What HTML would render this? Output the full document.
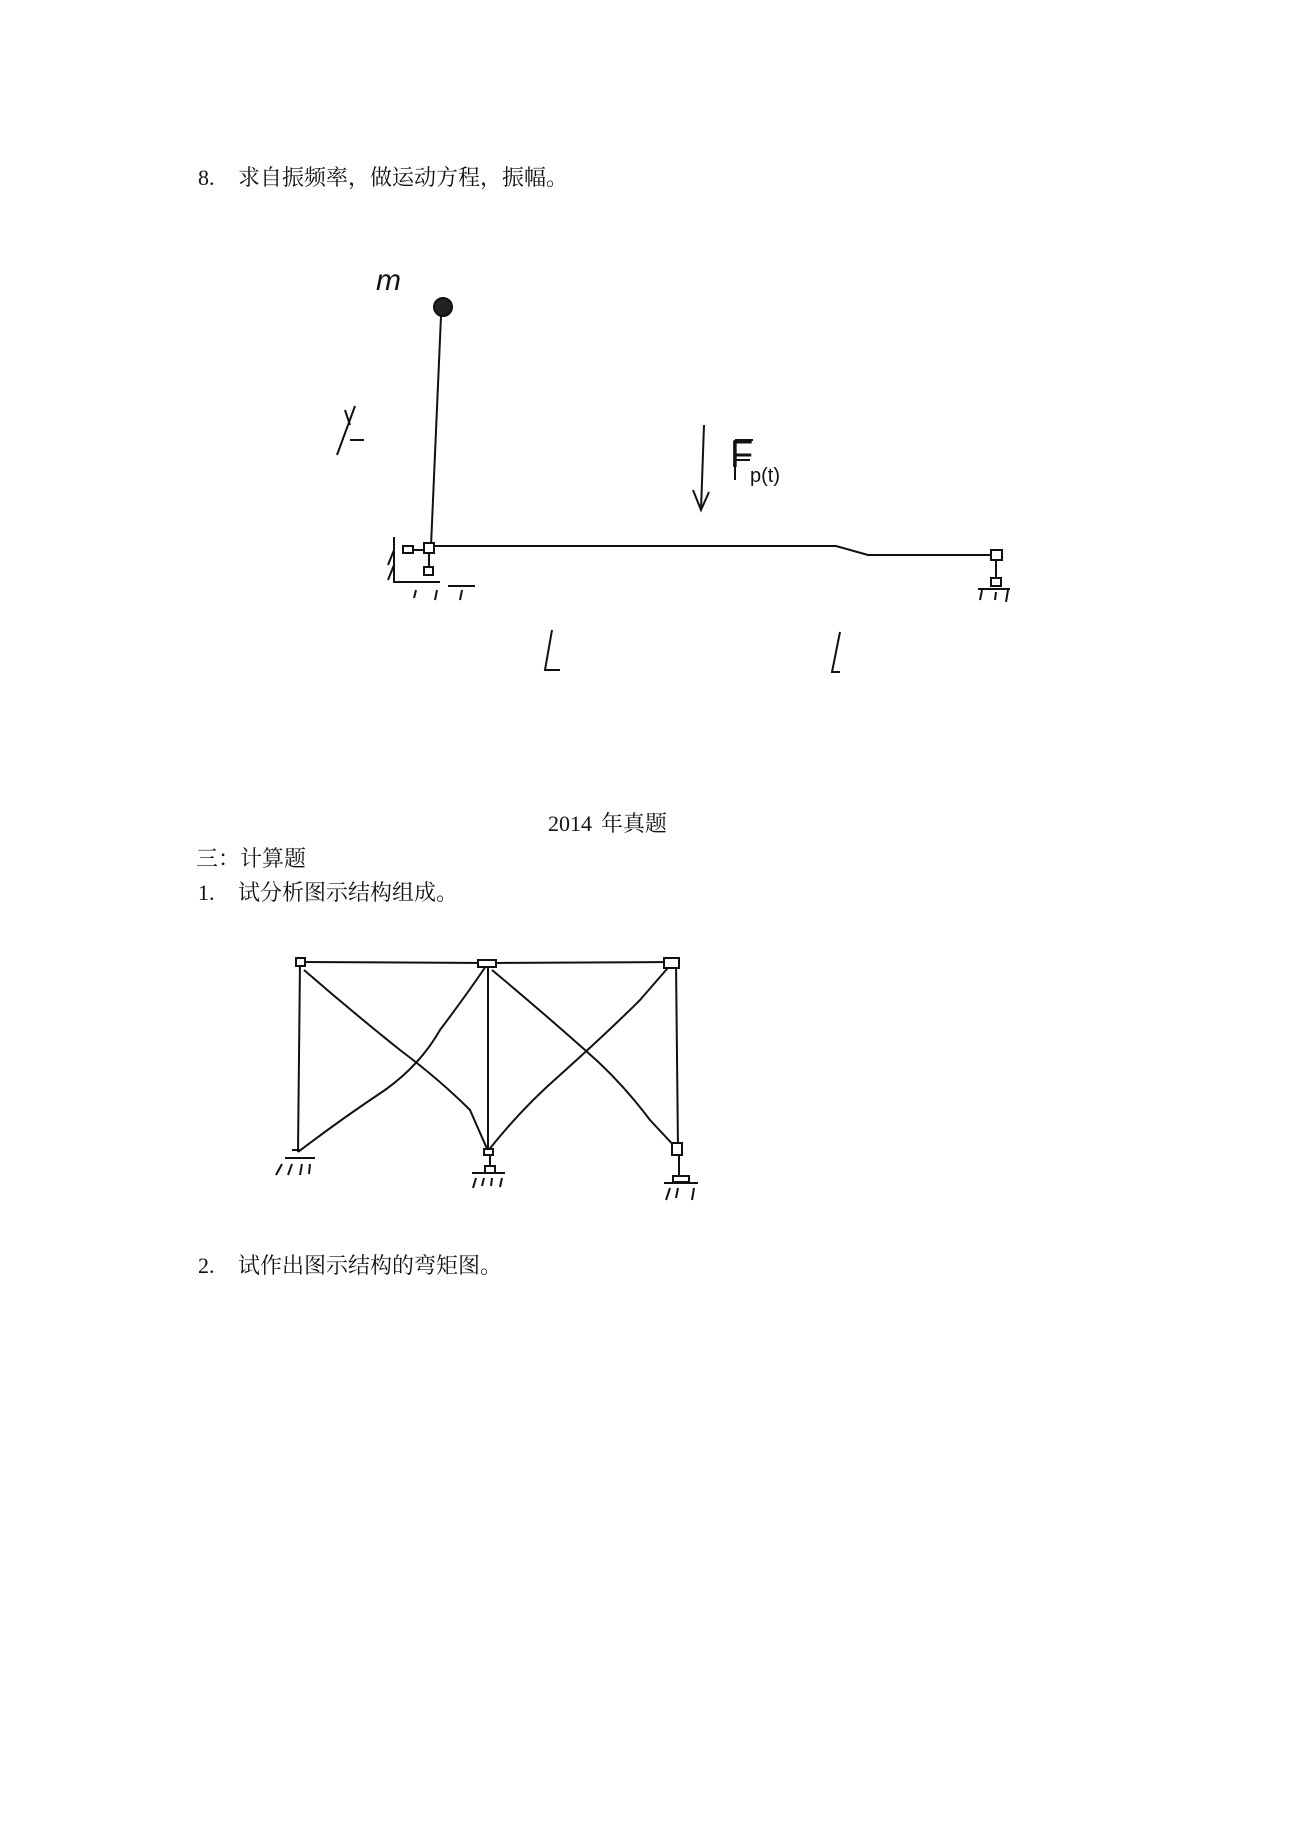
<!DOCTYPE html>
<html><head><meta charset="utf-8"><style>
html,body{margin:0;padding:0;background:#fff;}
body{width:1300px;height:1838px;position:relative;overflow:hidden;font-family:"Liberation Serif","Noto Serif CJK SC","Noto Sans CJK SC",serif;color:#111;}
.t{position:absolute;font-size:22px;white-space:nowrap;line-height:1;font-family:"Noto Serif CJK SC","Liberation Serif",serif;}
.n{position:absolute;font-size:22px;line-height:1;font-family:"Liberation Serif",serif;}
svg{position:absolute;left:0;top:0;}
</style></head><body>
<div class="n" style="left:198px;top:167px;">8.</div>
<div class="t" style="left:238px;top:166px;">求自振频率，做运动方程，振幅。</div>
<div class="n" style="left:548px;top:813px;">2014</div>
<div class="t" style="left:601px;top:812px;">年真题</div>
<div class="t" style="left:196px;top:847px;">三：计算题</div>
<div class="n" style="left:198px;top:882px;">1.</div>
<div class="t" style="left:238px;top:881px;">试分析图示结构组成。</div>
<div class="n" style="left:198px;top:1255px;">2.</div>
<div class="t" style="left:238px;top:1254px;">试作出图示结构的弯矩图。</div>
<svg width="1300" height="1838" viewBox="0 0 1300 1838" fill="none" stroke="#111" stroke-width="2">
<text x="376" y="290" font-size="30" fill="#111" stroke="none" font-style="italic" font-family="Liberation Sans">m</text>
<circle cx="443" cy="307" r="9" fill="#222"/>
<path d="M441 316 L431 546"/>
<path d="M431 546 L836 546 L868 555 L990 555"/>
<rect x="424" y="543" width="10" height="10" fill="#fff"/>
<rect x="403" y="546" width="10" height="7" fill="#fff"/>
<path d="M413 550 L424 550 M429 553 L429 567"/>
<rect x="424" y="567" width="9" height="8" fill="#fff"/>
<path d="M394 537 L394 582 L440 582 M394 550 L388 565 M394 565 L388 580 M416 590 L414 598 M437 590 L435 600 M462 590 L460 600 M448 586 L475 586"/>
<rect x="991" y="550" width="11" height="10" fill="#fff"/>
<path d="M996 560 L996 578"/>
<rect x="991" y="578" width="10" height="8" fill="#fff"/>
<path d="M978 589 L1010 589 M982 590 L980 600 M996 592 L995 600 M1008 590 L1006 602"/>
<path d="M704 425 L701 510 M693 490 L701 510 L709 492"/>
<path d="M735 440 L735 480 M735 440 L753 440 M735 460 L750 460"/>
<text x="750" y="482" font-size="20" fill="#111" stroke="none" font-family="Liberation Sans">p(t)</text>
<path d="M337 455 L355 406 M345 410 L350 425 M350 440 L364 440"/>
<path d="M552 630 L545 670 L560 670 M840 632 L832 672 L840 672"/>
<path d="M300 962 L488 963 L673 962"/>
<path d="M300 962 L298 1152 M488 963 L488 1151 M676 962 L678 1150"/>
<path d="M304 970 Q350 1010 400 1050 Q440 1080 470 1110 L488 1151"/>
<path d="M298 1152 Q340 1120 385 1090 Q420 1065 440 1030 Q470 990 488 963"/>
<path d="M492 970 Q540 1010 585 1050 Q620 1080 650 1120 L678 1150"/>
<path d="M488 1151 Q520 1110 560 1075 Q610 1030 640 1000 L673 962"/>
<rect x="296" y="958" width="9" height="8" fill="#fff"/>
<rect x="478" y="960" width="18" height="7" fill="#fff"/>
<rect x="664" y="958" width="15" height="10" fill="#fff"/>
<rect x="672" y="1143" width="10" height="12" fill="#fff"/>
<rect x="484" y="1149" width="9" height="6" fill="#fff"/>
<path d="M292 1150 L300 1150 M285 1158 L315 1158 M282 1164 L276 1175 M292 1164 L288 1175 M302 1164 L300 1175 M310 1164 L309 1174"/>
<path d="M490 1155 L490 1168"/>
<rect x="485" y="1166" width="10" height="7" fill="#fff"/>
<path d="M472 1173 L505 1173 M476 1178 L473 1188 M484 1178 L482 1186 M492 1178 L491 1186 M502 1178 L500 1187"/>
<path d="M679 1155 L679 1176"/>
<rect x="673" y="1176" width="16" height="6" fill="#fff"/>
<path d="M664 1183 L698 1183 M670 1188 L666 1200 M678 1188 L676 1198 M694 1188 L692 1200"/>
</svg>
<div style="position:absolute;left:730px;top:436px;font-size:38px;line-height:1;font-family:'Liberation Sans',sans-serif;">F</div>
</body></html>
